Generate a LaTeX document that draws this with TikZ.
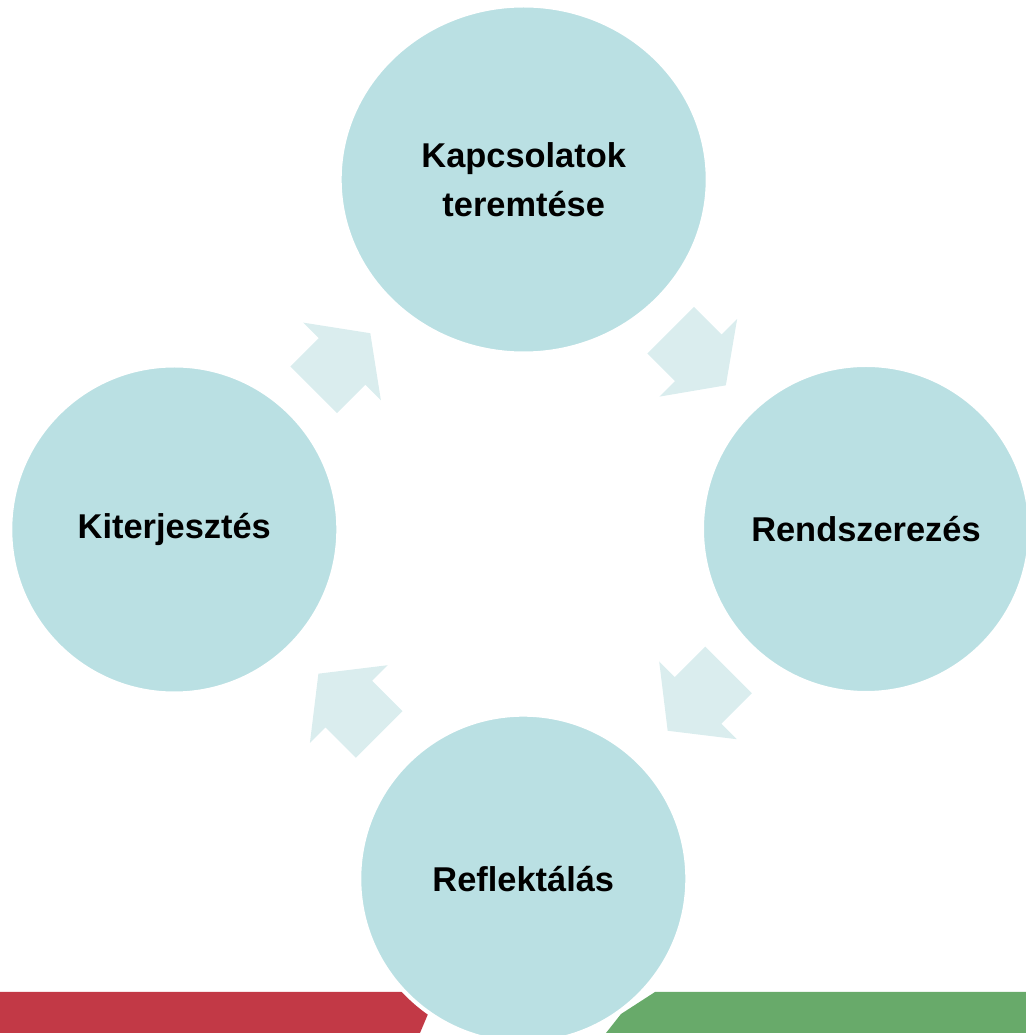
\documentclass[tikz,border=0pt]{standalone}
\usepackage{fontspec}
\setmainfont{Liberation Sans}
\usetikzlibrary{shapes.geometric,calc}
\definecolor{korkek}{HTML}{BAE0E3}
\definecolor{nyilkek}{HTML}{DAEDEE}
\definecolor{csikpiros}{HTML}{C23946}
\definecolor{csikzold}{HTML}{68AA6A}
\tikzset{
  kor/.style={circle,fill=korkek,draw=white,line width=2pt,inner sep=0pt,
    minimum size=164pt,align=center,
    font=\fontsize{17.2}{24.6}\selectfont\bfseries},
  nyil/.style={fill=nyilkek}
}
\begin{document}
\begin{tikzpicture}[x=0.5pt,y=0.5pt]
	\useasboundingbox (0,0) rectangle (1026,1035);
	\clip (0,0) rectangle (1026,1035);
	% csikok alul
	\fill[csikpiros] (0,2) -- (0,43) -- (415,43) -- (428,21) -- (420,2) -- cycle;
	\fill[csikzold] (1026,2) -- (1026,43) -- (655,43) -- (621,21) -- (606,2) -- cycle;
	% korok
	\node[kor,ellipse,minimum width=184pt,minimum height=174pt] (kapcs) at (523.7,855.5) {Kapcsolatok\\teremtése};
	\node[kor] (rendsz) at (866,506) {Rendszerezés};
	\node[kor] (refl) at (523.3,156.3) {Reflektálás};
	\node[kor] (kiterj) at (174.3,505.5) {Kiterjesztés};
	% nyilak
	\foreach \tol/\ig/\arany/\szog/\hossz in {kiterj/kapcs/0.48/45/40,kapcs/rendsz/0.51/-45/39,rendsz/refl/0.49/-135/43,refl/kiterj/0.5/135/43}
		\fill[nyil,shift={($(\tol)!\arany!(\ig)$)},rotate=\szog] (-\hossz,-33) -- (0,-33) -- (0,-55) -- (\hossz,0) -- (0,55) -- (0,33) -- (-\hossz,33) -- cycle;
\end{tikzpicture}
\end{document}
